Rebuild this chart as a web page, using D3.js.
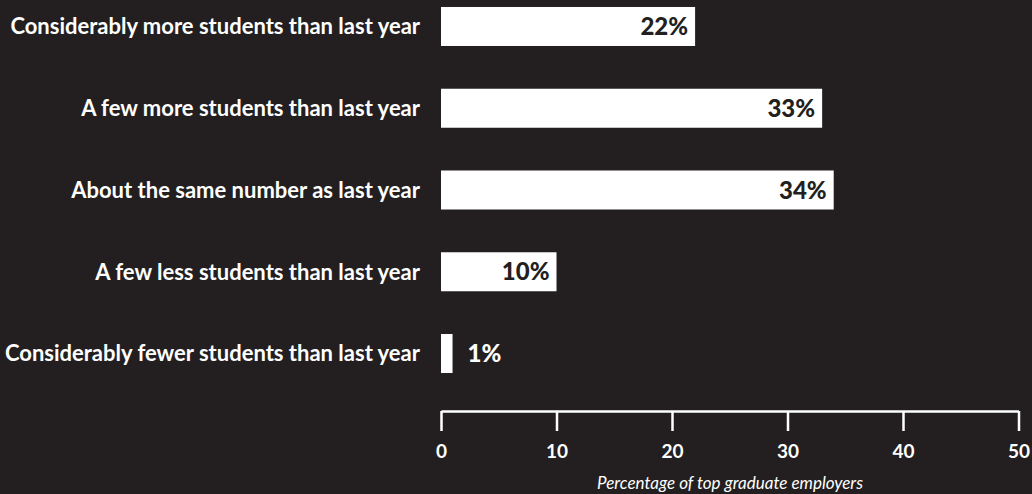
<!DOCTYPE html>
<html lang="en">
<head>
	<meta charset="utf-8">
	<script src="https://cdn.jsdelivr.net/npm/d3@7"></script>
	<style>
		html, body { margin: 0; padding: 0; background: #231f20; }
		svg { display: block; }
	</style>
</head>
<body>

<svg id="chart" width="1032" height="494"></svg>

<script type="text/javascript">
    "use strict";

    // answers and share of employers (%)
    var categories = [
      "Considerably more students than last year",
      "A few more students than last year",
      "About the same number as last year",
      "A few less students than last year",
      "Considerably fewer students than last year"
    ];
    var values = [22, 33, 34, 10, 1];
    var ticks = [0, 10, 20, 30, 40, 50];
    var axisTitle = "Percentage of top graduate employers";

    var bg = "#231f20";
    var font = "Lato, 'Open Sans', sans-serif";

    var svg = d3.select("#chart");

    var x = d3.scaleLinear().domain([0, 50]).range([441, 1018.5]);
    var y = d3.scaleBand().domain(categories).range([-14.4, 394.4])
      .paddingInner(0.523).paddingOuter(0.2615);

    // category labels
    svg.append("g").selectAll("text").data(categories).join("text")
      .attr("x", 420)
      .attr("y", function(d) { return y(d) + y.bandwidth() / 2; })
      .attr("dy", "0.36em")
      .attr("text-anchor", "end")
      .attr("fill", "#fff")
      .style("font-family", font)
      .style("font-weight", 700)
      .style("font-size", "22px")
      .text(function(d) { return d; });

    // bars
    svg.append("g").selectAll("rect").data(values).join("rect")
      .attr("x", x(0))
      .attr("y", function(d, i) { return y(categories[i]); })
      .attr("width", function(d) { return x(d) - x(0); })
      .attr("height", y.bandwidth())
      .attr("fill", "#fff");

    // value labels, inside the bar unless it is too short
    svg.append("g").selectAll("text").data(values).join("text")
      .attr("x", function(d) { return d < 5 ? x(d) + 15 : x(d) - 7; })
      .attr("y", function(d, i) { return y(categories[i]) + y.bandwidth() / 2; })
      .attr("dy", "0.36em")
      .attr("text-anchor", function(d) { return d < 5 ? "start" : "end"; })
      .attr("fill", function(d) { return d < 5 ? "#fff" : bg; })
      .style("font-family", font)
      .style("font-weight", 900)
      .style("font-size", "24px")
      .text(function(d) { return d + "%"; });

    // axis
    var axis = svg.append("g")
      .attr("transform", "translate(0,411)")
      .call(d3.axisBottom(x).tickValues(ticks).tickSize(20).tickSizeOuter(0).tickPadding(14));
    axis.select(".domain").attr("stroke", "#fff").attr("stroke-width", 2.5);
    axis.selectAll(".tick line").attr("stroke", "#fff").attr("stroke-width", 2.5);
    axis.selectAll(".tick text")
      .attr("fill", "#fff")
      .style("font-family", font)
      .style("font-weight", 700)
      .style("font-size", "19px");

    svg.append("text")
      .attr("x", 730)
      .attr("y", 489)
      .attr("text-anchor", "middle")
      .attr("fill", "#fff")
      .style("font-family", font)
      .style("font-style", "italic")
      .style("font-size", "17px")
      .text(axisTitle);
</script>

</body>
</html>
